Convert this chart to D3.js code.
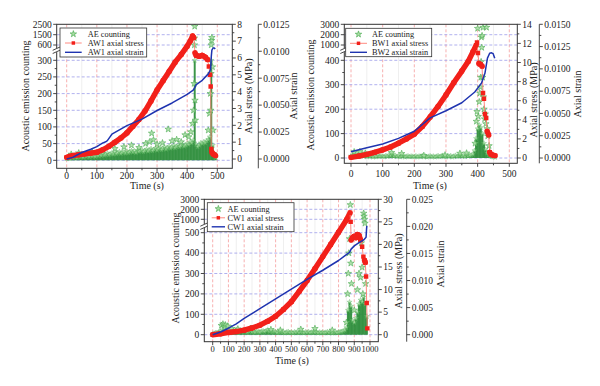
<!DOCTYPE html>
<html><head><meta charset="utf-8">
<script src="https://cdn.jsdelivr.net/npm/d3@7"></script>
<style>
body{margin:0;background:#fff}
svg{display:block}
text{font-family:"Liberation Serif","DejaVu Serif",serif;fill:#222}
</style>
</head><body>
<svg id="c" width="600" height="386"></svg>
<script>
// ================= DATA =================
// ---- Panel A (AW1) ----
const aTimeTicks=[0,100,200,300,400,500];
const aAeTicks=[0,50,100,150,200,250,300,600,1500,2500];
const aStressTicks=[0,1,2,3,4,5,6,7,8];
const aStrainTicks=[0,0.0025,0.005,0.0075,0.01,0.0125];
const aNames=["AE counting","AW1 axial stress","AW1 axial strain"];
const aAeStep=5;
const aAeBand=[5,8,6,10,7,12,9,8,11,10,
 12,9,14,11,13,10,15,12,14,11,
 16,13,18,14,20,15,17,22,16,19,
 21,18,24,19,22,26,20,23,25,21,
 27,22,25,29,24,28,23,30,26,28,
 31,25,29,33,27,30,35,28,32,36,
 30,34,38,31,35,40,33,37,42,36,
 39,44,37,41,46,40,43,48,42,45,
 50,47,55,52,60,300,48,40,45,52,
 50,55,52,58,62,70,300,45,20,8];
const aAeOutT=[15,40,85,120,160,190,215,240,262,275,282,288,300,318,337,350,365,380,393,405,412,418,421,423,424,424,425,426,427,470,474,477,478,479,480,481,482,484,486];
const aAeOutV=[18,22,25,30,35,40,45,38,50,55,81,61,48,52,93,58,62,55,76,70,85,110,150,230,600,1200,2300,180,120,90,140,200,150,260,600,1000,1250,280,90];
const aStressT=[0,10,20,40,60,80,100,120,140,160,180,200,220,240,260,280,300,320,340,360,380,400,410,418,422,426,430,440,450,460,468,472,476,478,480,482,486,490,494];
const aStress=[0.1,0.15,0.2,0.25,0.3,0.35,0.4,0.55,0.75,1.0,1.25,1.55,1.95,2.35,2.85,3.45,4.1,4.65,5.2,5.75,6.2,6.7,7.0,7.3,7.2,6.3,6.15,6.1,6.15,6.05,5.9,5.5,5.0,4.3,0.6,0.4,0.3,0.25,0.2];
const aStrainT=[0,20,50,80,100,120,130,135,145,150,200,250,300,350,400,420,425,430,450,470,476,478,480,482,486,490,493];
const aStrain=[0,0.00015,0.0006,0.0009,0.00115,0.0015,0.0016,0.0017,0.0021,0.0023,0.0031,0.0037,0.0045,0.0052,0.006,0.0064,0.0066,0.0069,0.0073,0.0079,0.0082,0.0084,0.0095,0.0101,0.0103,0.0103,0.0102];

// ---- Panel B (BW1) ----
const bTimeTicks=[0,100,200,300,400,500];
const bAeTicks=[0,100,200,300,400,1000,2000,3000];
const bStressTicks=[0,2,4,6,8,10,12,14];
const bStrainTicks=[0,0.0025,0.005,0.0075,0.01,0.0125,0.015];
const bNames=["AE counting","BW1 axial stress","BW2 axial strain"];
const bAeStep=5;
const bAeBand=[8,12,6,15,10,20,9,14,7,11,
 5,9,6,8,4,7,5,10,6,8,
 7,5,9,6,12,8,16,7,10,6,
 8,5,7,9,4,6,8,5,7,6,
 5,8,4,7,6,9,5,7,4,6,
 8,5,7,4,6,9,5,7,10,6,
 5,8,6,9,4,7,10,6,8,12,
 7,9,6,14,8,10,12,15,30,80,
 120,135,125,100,60,35,20,12,8,6,
 4,3];
const bAeOutT=[10,28,45,128,160,230,297,344,365,392,396,398,400,402,405,407,409,410,411,412,413,414,416,417,418,420,422,424,426,428,430,432,436];
const bAeOutV=[25,26,20,22,18,10,12,19,20,60,150,190,2600,170,230,265,290,330,394,1750,900,1900,330,2700,250,200,160,180,140,2700,120,90,50];
const bStressT=[0,25,50,75,100,125,150,175,200,225,250,275,300,325,350,370,385,395,398,401,404,409,414,417,420,423,427,430,435,438,442,448,455];
const bStress=[0.07,0.2,0.38,0.6,0.85,1.15,1.55,2.0,2.5,3.3,4.3,5.4,6.6,7.9,9.1,10.1,11.1,11.8,12.1,11.0,9.9,9.8,9.6,6.8,6.2,4.6,4.2,2.8,2.4,0.6,0.4,0.3,0.25];
const bStrainT=[0,50,100,150,200,250,300,350,391,412,423,431,438,444,449,454];
const bStrain=[0.0007,0.00116,0.00157,0.0022,0.003,0.0045,0.0053,0.0062,0.0074,0.0084,0.0095,0.0112,0.01175,0.0118,0.0117,0.0112];

// ---- Panel C (CW1) ----
const cTimeTicks=[0,100,200,300,400,500,600,700,800,900,1000];
const cAeTicks=[0,100,200,300,400,500,1000,2000,3000];
const cStressTicks=[0,5,10,15,20,25,30];
const cStrainTicks=[0,0.005,0.01,0.015,0.02,0.025];
const cNames=["AE counting","CW1 axial stress","CW1 axial strain"];
const cAeStep=10;
const cAeBand=[3,6,10,8,14,18,22,15,20,16,
 12,18,14,20,16,22,13,18,15,20,
 14,18,12,16,20,13,15,11,17,14,
 12,16,18,14,20,22,15,18,13,16,
 14,10,12,16,11,13,9,12,15,10,
 12,9,13,11,15,10,14,12,9,13,
 11,14,10,12,15,11,13,9,12,10,
 12,9,11,14,10,12,8,11,13,10,
 12,14,15,18,22,35,120,160,140,70,
 60,80,110,150,170,160,185,150,90];
const cAeOutT=[55,65,75,80,95,120,160,240,370,430,560,650,760,850,858,862,866,870,875,878,882,900,920,930,940,945,950,955,960,962,965,968,972];
const cAeOutV=[45,52,38,48,42,30,28,30,25,22,26,30,22,60,200,300,400,470,2450,350,250,120,220,300,280,450,330,200,1600,1300,1000,850,250];
const cStressT=[0,50,100,150,200,250,300,350,400,450,500,550,600,650,700,750,800,850,873,877,880,890,900,910,920,930,940,950,958,965,970,975,979,983];
const cStress=[0,0.2,0.5,0.7,1.0,1.5,2.1,3.0,4.1,5.6,7.3,9.6,12.0,14.6,17.3,20.0,22.7,25.4,27.0,25.0,21.0,21.5,21.8,21.5,22.2,22.0,21.0,19.5,17.3,16.5,16.0,12.9,7.0,1.4];
const cStrainT=[0,50,100,150,200,300,400,500,600,700,800,850,870,880,900,930,960,975,978,980];
const cStrain=[0,0.0005,0.0012,0.002,0.003,0.0048,0.0066,0.0084,0.0102,0.0119,0.0137,0.0148,0.0152,0.0158,0.0164,0.017,0.0175,0.018,0.0195,0.0201];

// ================= LAYOUT =================
const panels=[
 {id:"A",names:aNames,tT:aTimeTicks,aeT:aAeTicks,sT:aStressTicks,eT:aStrainTicks,
  step:aAeStep,band:aAeBand,outT:aAeOutT,outV:aAeOutV,sX:aStressT,sY:aStress,eX:aStrainT,eY:aStrain,
  frame:{x0:56.7,x1:232.3,y0:24.3,y1:168.3},xRng:[66.7,217.3],
  aeRng:[160.3,143.6,126.9,110.3,93.6,76.9,60.3,45,34.7,24.3],lowTop:300,breakVal:500,
  sRng:[159,24.3],eRng:[159,24.3],eFmt:".4f",eAxisX:258.3,xfs:9.5,
  lt:[25,96],st:[248.3,96],et:[293.3,96],tt:[147,185.5],xlY:175.5,
  leg:{x0:60,y0:28,x1:146.7,y1:57,rows:[34,43,52.3],s0:65,s1:81.7,tx:87.7}},
 {id:"B",names:bNames,tT:bTimeTicks,aeT:bAeTicks,sT:bStressTicks,eT:bStrainTicks,
  step:bAeStep,band:bAeBand,outT:bAeOutT,outV:bAeOutV,sX:bStressT,sY:bStress,eX:bStrainT,eY:bStrain,
  frame:{x0:344.3,x1:517.3,y0:24.3,y1:163.3},xRng:[351,509.3],
  aeRng:[158,133.6,109.2,84.7,60.3,45,34.7,24.3],lowTop:400,breakVal:800,
  sRng:[158,24.3],eRng:[158,24.3],eFmt:".4f",eAxisX:539.3,xfs:9.5,
  lt:[310,95],st:[533,100],et:[577,94],tt:[430,185.5],xlY:173.5,
  leg:{x0:345.7,y0:28.3,x1:431.7,y1:56.7,rows:[34.3,43.3,52.3],s0:350,s1:367,tx:372}},
 {id:"C",names:cNames,tT:cTimeTicks,aeT:cAeTicks,sT:cStressTicks,eT:cStrainTicks,
  step:cAeStep,band:cAeBand,outT:cAeOutT,outV:cAeOutV,sX:cStressT,sY:cStress,eX:cStrainT,eY:cStrain,
  frame:{x0:204.3,x1:378.3,y0:199.3,y1:341.7},xRng:[212.7,370],
  aeRng:[334.7,314.3,293.9,273.5,253.1,232.7,219.3,209.3,199.3],lowTop:500,breakVal:750,
  sRng:[334.7,199.3],eRng:[334.7,199.3],eFmt:".3f",eAxisX:406.7,xfs:8.5,
  lt:[175,268],st:[398.3,271],et:[440,264],tt:[292,360.5],xlY:349.5,
  leg:{x0:207.3,y0:202.7,x1:294,y1:231.7,rows:[208.8,217.8,226.8],s0:211.7,s1:225,tx:227.5}}
];

const svg=d3.select("#c");
const RED="#f2201a", BLUE="#1f34b0", GREEN="#2a8c38", STAR_S="#4fae55", STAR_F="#a9dea4";
const TICKFS=9.5, TITLEFS=10, LEGFS=8.3;
const mids=a=>a.slice(1).map((v,i)=>(v+a[i])/2);

function drawPanel(p){
 const f=p.frame;
 const g=svg.append("g");
 const x=d3.scaleLinear().domain([p.tT[0],p.tT[p.tT.length-1]]).range(p.xRng);
 const yAE=d3.scaleLinear().domain(p.aeT).range(p.aeRng);
 const yS=d3.scaleLinear().domain([p.sT[0],p.sT[p.sT.length-1]]).range(p.sRng);
 const yE=d3.scaleLinear().domain([p.eT[0],p.eT[p.eT.length-1]]).range(p.eRng);
 const clip="clip"+p.id;
 svg.append("clipPath").attr("id",clip).append("rect")
  .attr("x",f.x0).attr("y",f.y0).attr("width",f.x1-f.x0).attr("height",f.y1-f.y0);
 const plot=g.append("g").attr("clip-path","url(#"+clip+")");
 // minor vertical grid
 plot.selectAll(null).data(mids(p.tT)).join("line")
  .attr("x1",d=>x(d)).attr("x2",d=>x(d)).attr("y1",f.y0).attr("y2",f.y1)
  .attr("stroke","#e4e4e4").attr("stroke-width",0.6);
 // major vertical grid (pink)
 plot.selectAll(null).data(p.tT).join("line")
  .attr("x1",d=>x(d)).attr("x2",d=>x(d)).attr("y1",f.y0).attr("y2",f.y1)
  .attr("stroke","#f59c9c").attr("stroke-width",0.8).attr("stroke-dasharray","3,2");
 // horizontal grid (blue)
 plot.selectAll(null).data(p.aeT.slice(0,-1)).join("line")
  .attr("x1",f.x0).attr("x2",f.x1).attr("y1",d=>yAE(d)).attr("y2",d=>yAE(d))
  .attr("stroke","#9d9dea").attr("stroke-width",0.8).attr("stroke-dasharray","3,2");
 // AE band (dense scatter shown as stems)
 const bandT=p.band.map((v,i)=>i*p.step);
 const bw=Math.abs(x(p.step)-x(0))*1.3;
 plot.selectAll(null).data(p.band).join("line")
  .attr("x1",(d,i)=>x(bandT[i])).attr("x2",(d,i)=>x(bandT[i]))
  .attr("y1",yAE(0)).attr("y2",d=>yAE(d))
  .attr("stroke",GREEN).attr("stroke-width",bw).attr("stroke-opacity",0.92);
 const star=d3.symbol(d3.symbolStar).size(13);
 const smallStar=d3.symbol(d3.symbolStar).size(8);
 plot.selectAll(null).data(p.band).join("path")
  .attr("d",smallStar).attr("transform",(d,i)=>`translate(${x(bandT[i])},${yAE(d)})`)
  .attr("fill",STAR_F).attr("stroke",STAR_S).attr("stroke-width",0.5).attr("opacity",0.7);
 plot.selectAll(null).data(p.outV).join("path")
  .attr("d",star).attr("transform",(d,i)=>`translate(${x(p.outT[i])},${yAE(d)})`)
  .attr("fill",STAR_F).attr("stroke",STAR_S).attr("stroke-width",0.7).attr("opacity",0.9);
 // stress: thick band where dense, thin connector on steep jumps
 const sPts=p.sY.map((v,i)=>[p.sX[i],v]);
 const segs=sPts.slice(1).map((d,i)=>[sPts[i],d]);
 const steep=d=>Math.abs((yS(d[1][1])-yS(d[0][1]))/(x(d[1][0])-x(d[0][0])))>3;
 plot.selectAll(null).data(segs).join("line")
  .attr("x1",d=>x(d[0][0])).attr("y1",d=>yS(d[0][1]))
  .attr("x2",d=>x(d[1][0])).attr("y2",d=>yS(d[1][1]))
  .attr("stroke",d=>steep(d)?"#ff7a70":RED)
  .attr("stroke-width",d=>steep(d)?0.9:5.4)
  .attr("stroke-linecap","round");
 plot.selectAll(null).data(sPts).join("path")
  .attr("d",d3.symbol(d3.symbolSquare).size(20))
  .attr("transform",d=>`translate(${x(d[0])},${yS(d[1])})`).attr("fill",RED);
 // strain
 const ePts=p.eY.map((v,i)=>[p.eX[i],v]);
 plot.append("path").datum(ePts)
  .attr("d",d3.line().x(d=>x(d[0])).y(d=>yE(d[1])))
  .attr("fill","none").attr("stroke",BLUE).attr("stroke-width",1.5).attr("stroke-linejoin","round");

 // frame
 g.append("rect").attr("x",f.x0).attr("y",f.y0).attr("width",f.x1-f.x0).attr("height",f.y1-f.y0)
  .attr("fill","none").attr("stroke","#333").attr("stroke-width",1);
 const ax=g.append("g").attr("stroke","#333").attr("stroke-width",0.9);
 // bottom ticks
 ax.selectAll(null).data(p.tT).join("line").attr("x1",d=>x(d)).attr("x2",d=>x(d)).attr("y1",f.y1).attr("y2",f.y1+3.5);
 ax.selectAll(null).data(mids(p.tT)).join("line").attr("x1",d=>x(d)).attr("x2",d=>x(d)).attr("y1",f.y1).attr("y2",f.y1+2);
 g.selectAll(null).data(p.tT).join("text").attr("x",d=>x(d)).attr("y",p.xlY).attr("dy","0.35em")
  .attr("text-anchor","middle").attr("font-size",p.xfs).text(d=>d);
 // left ticks
 ax.selectAll(null).data(p.aeT).join("line").attr("x1",f.x0-3.5).attr("x2",f.x0).attr("y1",d=>yAE(d)).attr("y2",d=>yAE(d));
 const lowT=p.aeT.filter(v=>v<=p.lowTop);
 ax.selectAll(null).data(mids(lowT)).join("line").attr("x1",f.x0-2).attr("x2",f.x0).attr("y1",d=>yAE(d)).attr("y2",d=>yAE(d));
 g.selectAll(null).data(p.aeT).join("text").attr("x",f.x0-5).attr("y",d=>yAE(d)).attr("dy","0.35em")
  .attr("text-anchor","end").attr("font-size",TICKFS).text(d=>d);
 // axis break
 const by=yAE(p.breakVal);
 g.append("rect").attr("x",f.x0-2).attr("y",by-2).attr("width",4).attr("height",4).attr("fill","#fff");
 g.selectAll(null).data([-1.6,1.6]).join("line")
  .attr("x1",f.x0-4).attr("x2",f.x0+4).attr("y1",d=>by+d+1.8).attr("y2",d=>by+d-1.8)
  .attr("stroke","#333").attr("stroke-width",0.9);
 // right stress ticks
 ax.selectAll(null).data(p.sT).join("line").attr("x1",f.x1).attr("x2",f.x1+3.5).attr("y1",d=>yS(d)).attr("y2",d=>yS(d));
 ax.selectAll(null).data(mids(p.sT)).join("line").attr("x1",f.x1).attr("x2",f.x1+2).attr("y1",d=>yS(d)).attr("y2",d=>yS(d));
 g.selectAll(null).data(p.sT).join("text").attr("x",f.x1+5).attr("y",d=>yS(d)).attr("dy","0.35em")
  .attr("font-size",TICKFS).text(d=>d);
 // strain axis
 ax.append("line").attr("x1",p.eAxisX).attr("x2",p.eAxisX).attr("y1",f.y0).attr("y2",f.y1);
 ax.selectAll(null).data(p.eT).join("line").attr("x1",p.eAxisX).attr("x2",p.eAxisX+3.5).attr("y1",d=>yE(d)).attr("y2",d=>yE(d));
 ax.selectAll(null).data(mids(p.eT)).join("line").attr("x1",p.eAxisX).attr("x2",p.eAxisX+2).attr("y1",d=>yE(d)).attr("y2",d=>yE(d));
 g.selectAll(null).data(p.eT).join("text").attr("x",p.eAxisX+5).attr("y",d=>yE(d)).attr("dy","0.35em")
  .attr("font-size",TICKFS).text(d=>d3.format(p.eFmt)(d));
 // titles
 const rot=(pos,txt)=>g.append("text").attr("transform",`translate(${pos[0]},${pos[1]}) rotate(-90)`)
  .attr("text-anchor","middle").attr("dy","0.35em").attr("font-size",TITLEFS).text(txt);
 rot(p.lt,"Acoustic emission counting");
 rot(p.st,"Axial stress (MPa)");
 rot(p.et,"Axial strain");
 g.append("text").attr("x",p.tt[0]).attr("y",p.tt[1]).attr("dy","0.35em").attr("text-anchor","middle")
  .attr("font-size",TITLEFS).text("Time (s)");
 // legend
 const L=p.leg;
 g.append("rect").attr("x",L.x0).attr("y",L.y0).attr("width",L.x1-L.x0).attr("height",L.y1-L.y0)
  .attr("fill","#fff").attr("stroke","#333").attr("stroke-width",0.8);
 const sm=(L.s0+L.s1)/2;
 g.append("path").attr("d",star).attr("transform",`translate(${sm},${L.rows[0]})`)
  .attr("fill",STAR_F).attr("stroke",STAR_S).attr("stroke-width",0.7);
 g.append("line").attr("x1",L.s0).attr("x2",L.s1).attr("y1",L.rows[1]).attr("y2",L.rows[1])
  .attr("stroke","#ff8a80").attr("stroke-width",1);
 g.append("path").attr("d",d3.symbol(d3.symbolSquare).size(12)).attr("transform",`translate(${sm},${L.rows[1]})`).attr("fill",RED);
 g.append("line").attr("x1",L.s0).attr("x2",L.s1).attr("y1",L.rows[2]).attr("y2",L.rows[2])
  .attr("stroke",BLUE).attr("stroke-width",1.4);
 g.selectAll(null).data(p.names).join("text").attr("x",L.tx).attr("y",(d,i)=>L.rows[i]).attr("dy","0.33em")
  .attr("font-size",LEGFS).text(d=>d);
}
panels.forEach(drawPanel);
</script>
</body></html>
